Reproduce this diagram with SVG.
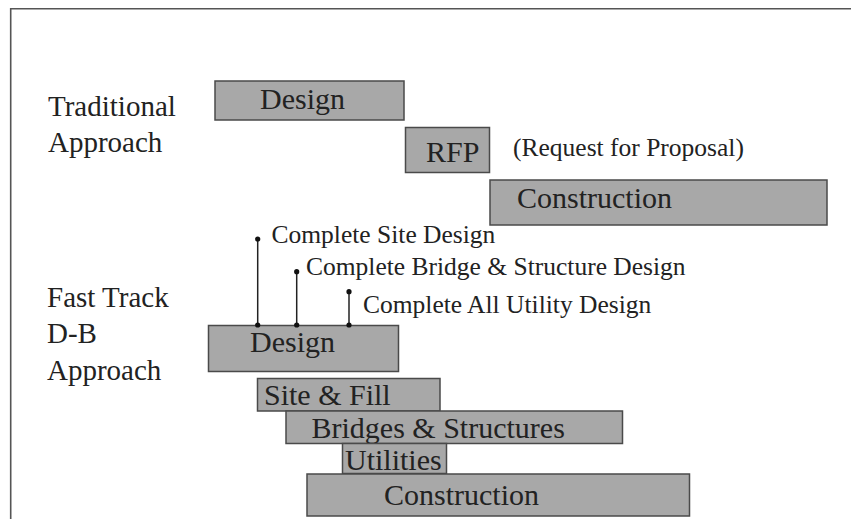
<svg xmlns="http://www.w3.org/2000/svg" width="851" height="519" viewBox="0 0 851 519">
<style>
.bar{fill:#a8a8a8;stroke:#4a4a4a;stroke-width:1.5}
.t{font-family:"Liberation Serif","Times New Roman",serif;fill:#222}
.b{font-size:30px}
.l{font-size:29px}
.s{font-size:25.5px}
.c{stroke:#222;stroke-width:1.5;fill:none}
.d{fill:#111}
</style>
<rect width="851" height="519" fill="#fff"/>
<path d="M10.7 519 V8.7 H851" fill="none" stroke="#555" stroke-width="1.6"/>
<g id="labels">
<text class="t l" x="48" y="116">Traditional</text>
<text class="t l" x="48" y="152">Approach</text>
<text class="t l" x="47" y="307">Fast Track</text>
<text class="t l" x="47" y="343">D-B</text>
<text class="t l" x="47" y="380">Approach</text>
</g>
<g id="trad-design"><rect class="bar" x="215" y="81" width="189" height="39"/><text class="t b" x="260" y="109">Design</text></g>
<g id="trad-rfp"><rect class="bar" x="405.5" y="127.5" width="84" height="45"/><text class="t b" x="426" y="162">RFP</text></g>
<g id="rfp-note"><text class="t s" x="513" y="156">(Request for Proposal)</text></g>
<g id="trad-construction"><rect class="bar" x="490" y="180" width="337" height="45"/><text class="t b" x="517" y="208">Construction</text></g>
<g id="connectors">
<line class="c" x1="257.7" y1="239" x2="257.7" y2="325"/>
<line class="c" x1="296.7" y1="271.7" x2="296.7" y2="325"/>
<line class="c" x1="349" y1="291.7" x2="349" y2="325"/>
<circle class="d" cx="257.7" cy="239" r="2.6"/>
<circle class="d" cx="296.7" cy="271.7" r="2.6"/>
<circle class="d" cx="349" cy="291.7" r="2.6"/>
</g>
<g id="milestones">
<text class="t s" x="271.5" y="243">Complete Site Design</text>
<text class="t s" x="306" y="275">Complete Bridge &amp; Structure Design</text>
<text class="t s" x="363" y="313">Complete All Utility Design</text>
</g>
<g id="ft-design"><rect class="bar" x="208.5" y="325.5" width="190" height="46"/><text class="t b" x="250" y="352">Design</text>
<circle class="d" cx="257.7" cy="325" r="2.6"/><circle class="d" cx="296.7" cy="325" r="2.6"/><circle class="d" cx="349" cy="325" r="2.6"/></g>
<g id="ft-site"><rect class="bar" x="257.5" y="378.5" width="182.5" height="32.5"/><text class="t b" x="264" y="405">Site &amp; Fill</text></g>
<g id="ft-bridges"><rect class="bar" x="286" y="411" width="336.5" height="32.5"/><text class="t b" x="311.5" y="438">Bridges &amp; Structures</text></g>
<g id="ft-utilities"><rect class="bar" x="342.5" y="443.5" width="104" height="30"/><text class="t b" x="345" y="470">Utilities</text></g>
<g id="ft-construction"><rect class="bar" x="307" y="474" width="382.5" height="42"/><text class="t b" x="384" y="505">Construction</text></g>
</svg>
